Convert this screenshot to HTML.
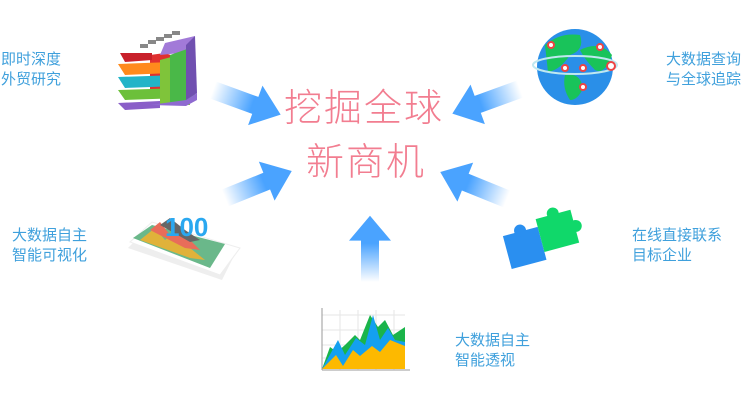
<!DOCTYPE html>
<html><head><meta charset="utf-8"><style>
body{margin:0;width:746px;height:407px;background:#fff;overflow:hidden;position:relative;font-family:"Liberation Sans","Noto Sans CJK SC",sans-serif}
.l{position:absolute;color:#3fa0dc;font-size:15px;line-height:20px}
.t{position:absolute;color:#f27d90;font-size:38px;line-height:44px;font-weight:300;letter-spacing:2px}
svg{position:absolute;left:0;top:0}
</style></head><body>
<svg width="746" height="407">
<defs>
<linearGradient id="g" x1="0" y1="0" x2="70" y2="0" gradientUnits="userSpaceOnUse">
<stop offset="0" stop-color="#4aa3ff" stop-opacity="0"/><stop offset="0.6" stop-color="#4aa3ff"/><stop offset="1" stop-color="#4aa3ff"/></linearGradient>
<symbol id="a" overflow="visible"><path d="M0,-9 L45,-9 L45,-21 L72,0 L45,21 L45,9 L0,9 Z" fill="url(#g)"/></symbol>
</defs>
<use href="#a" transform="translate(213,90) rotate(20)"/>
<use href="#a" transform="translate(520,89) rotate(160)"/>
<use href="#a" transform="translate(225,198) rotate(-22)"/>
<use href="#a" transform="translate(507,199) rotate(202)"/>
<use href="#a" transform="translate(370,282) rotate(-90) scale(0.92,1)"/>
<!-- cube -->
<polygon points="150,55 165,53 185,60 185,98 150,98" fill="#e03030"/>
<polygon points="120,53 152,53 152,60 125,62" fill="#c8202a"/>
<polygon points="118,64 172,62 172,73 125,75" fill="#ff8a1c"/>
<polygon points="118,77 178,75 178,86 125,88" fill="#22b4c8"/>
<polygon points="118,90 182,88 182,98 125,100" fill="#6cc03a"/>
<polygon points="118,103 160,101 160,108 125,110" fill="#8a5ec8"/>
<polygon points="160,60 190,52 190,105 160,105" fill="#7fc43a"/>
<polygon points="165,43 195,36 190,52 160,55" fill="#a27ad8"/>
<polygon points="170,55 190,48 195,36 195,100 170,105" fill="#4ab848"/>
<polygon points="186,45 195,36 197,93 186,100" fill="#7050b0"/>
<polygon points="150,105 186,100 197,93 197,100 186,106" fill="#8e6ad0"/>
<rect x="140" y="44" width="8" height="4" fill="#888"/><rect x="148" y="40" width="8" height="4" fill="#888"/><rect x="156" y="37" width="8" height="4" fill="#888"/><rect x="164" y="34" width="8" height="4" fill="#888"/><rect x="172" y="31" width="8" height="4" fill="#888"/>
<!-- globe -->
<circle cx="575" cy="67" r="38" fill="#2a8fe8"/>
<path d="M545,45 Q560,32 580,35 Q585,50 570,55 Q560,70 548,72 Z" fill="#19c35a"/>
<path d="M580,50 Q600,40 612,55 Q605,75 595,70 Q585,60 580,50 Z" fill="#19c35a"/>
<path d="M565,75 Q580,72 583,88 Q578,100 570,100 Q562,88 565,75 Z" fill="#19c35a"/>
<ellipse cx="575" cy="65" rx="42" ry="9" fill="none" stroke="#bfe8f0" stroke-width="2"/>
<circle cx="551" cy="45" r="3" fill="#fff" stroke="#e44" stroke-width="2"/><circle cx="600" cy="47" r="3" fill="#fff" stroke="#e44" stroke-width="2"/><circle cx="565" cy="68" r="3" fill="#fff" stroke="#e44" stroke-width="2"/><circle cx="583" cy="68" r="3" fill="#fff" stroke="#e44" stroke-width="2"/><circle cx="611" cy="66" r="4" fill="#fff" stroke="#e44" stroke-width="2"/><circle cx="583" cy="87" r="3" fill="#fff" stroke="#e44" stroke-width="2"/>
<!-- tablet -->
<polygon points="128,248 148,228 238,248 222,280" fill="#ddd" opacity="0.5"/>
<polygon points="130,242 152,222 240,248 220,275" fill="#fff" stroke="#eee"/>
<polygon points="133,238 152,225 225,244 210,268" fill="#6ab88a"/>
<path d="M140,240 L155,228 L165,240 L175,232 L190,248 L205,260 L190,258 Z" fill="#e0b23a"/>
<path d="M150,230 L160,222 L170,235 L182,232 L200,250 L185,248 Z" fill="#e86d5a"/>
<path d="M160,225 L170,218 L185,230 L200,240 L190,242 Z" fill="#666"/>
<text x="165" y="236" font-family="Liberation Sans" font-weight="bold" font-size="26" fill="#2aa8f0">100</text>
<!-- puzzle -->
<g transform="rotate(-15 535 240)">
<rect x="505" y="228" width="36" height="34" fill="#2a8ff0"/>
<circle cx="523" cy="227" r="6" fill="#2a8ff0"/>
<rect x="541" y="220" width="36" height="34" fill="#10d86a"/>
<circle cx="559" cy="219" r="6" fill="#10d86a"/><circle cx="578" cy="237" r="6" fill="#10d86a"/>
</g>
<!-- chart -->
<g stroke="#e6e6e6" stroke-width="1">
<line x1="322" y1="315" x2="405" y2="315"/><line x1="322" y1="330" x2="405" y2="330"/><line x1="322" y1="345" x2="405" y2="345"/><line x1="322" y1="358" x2="405" y2="358"/>
<line x1="340" y1="310" x2="340" y2="370"/><line x1="358" y1="310" x2="358" y2="370"/><line x1="376" y1="310" x2="376" y2="370"/><line x1="394" y1="310" x2="394" y2="370"/>
</g>
<polygon points="322,369 330,347 337,352 345,345 355,335 360,340 370,315 378,327 385,320 393,335 405,327 405,369" fill="#1ab44a"/>
<polygon points="322,369 338,340 345,355 356,338 365,345 373,315 380,340 388,328 395,340 405,342 405,369" fill="#14a0f0"/>
<polygon points="322,369 336,355 343,366 353,350 360,356 372,346 380,352 390,340 405,346 405,369" fill="#fdb900"/>
<line x1="322" y1="308" x2="322" y2="370" stroke="#999"/><line x1="322" y1="370" x2="410" y2="370" stroke="#999"/>
</svg>
<div class="t" style="left:284px;top:87px">挖掘全球</div>
<div class="t" style="left:306px;top:141px">新商机</div>
<div class="l" style="left:1px;top:50px">即时深度<br>外贸研究</div>
<div class="l" style="left:666px;top:50px">大数据查询<br>与全球追踪</div>
<div class="l" style="left:12px;top:226px">大数据自主<br>智能可视化</div>
<div class="l" style="left:632px;top:226px">在线直接联系<br>目标企业</div>
<div class="l" style="left:455px;top:331px">大数据自主<br>智能透视</div>
</body></html>
